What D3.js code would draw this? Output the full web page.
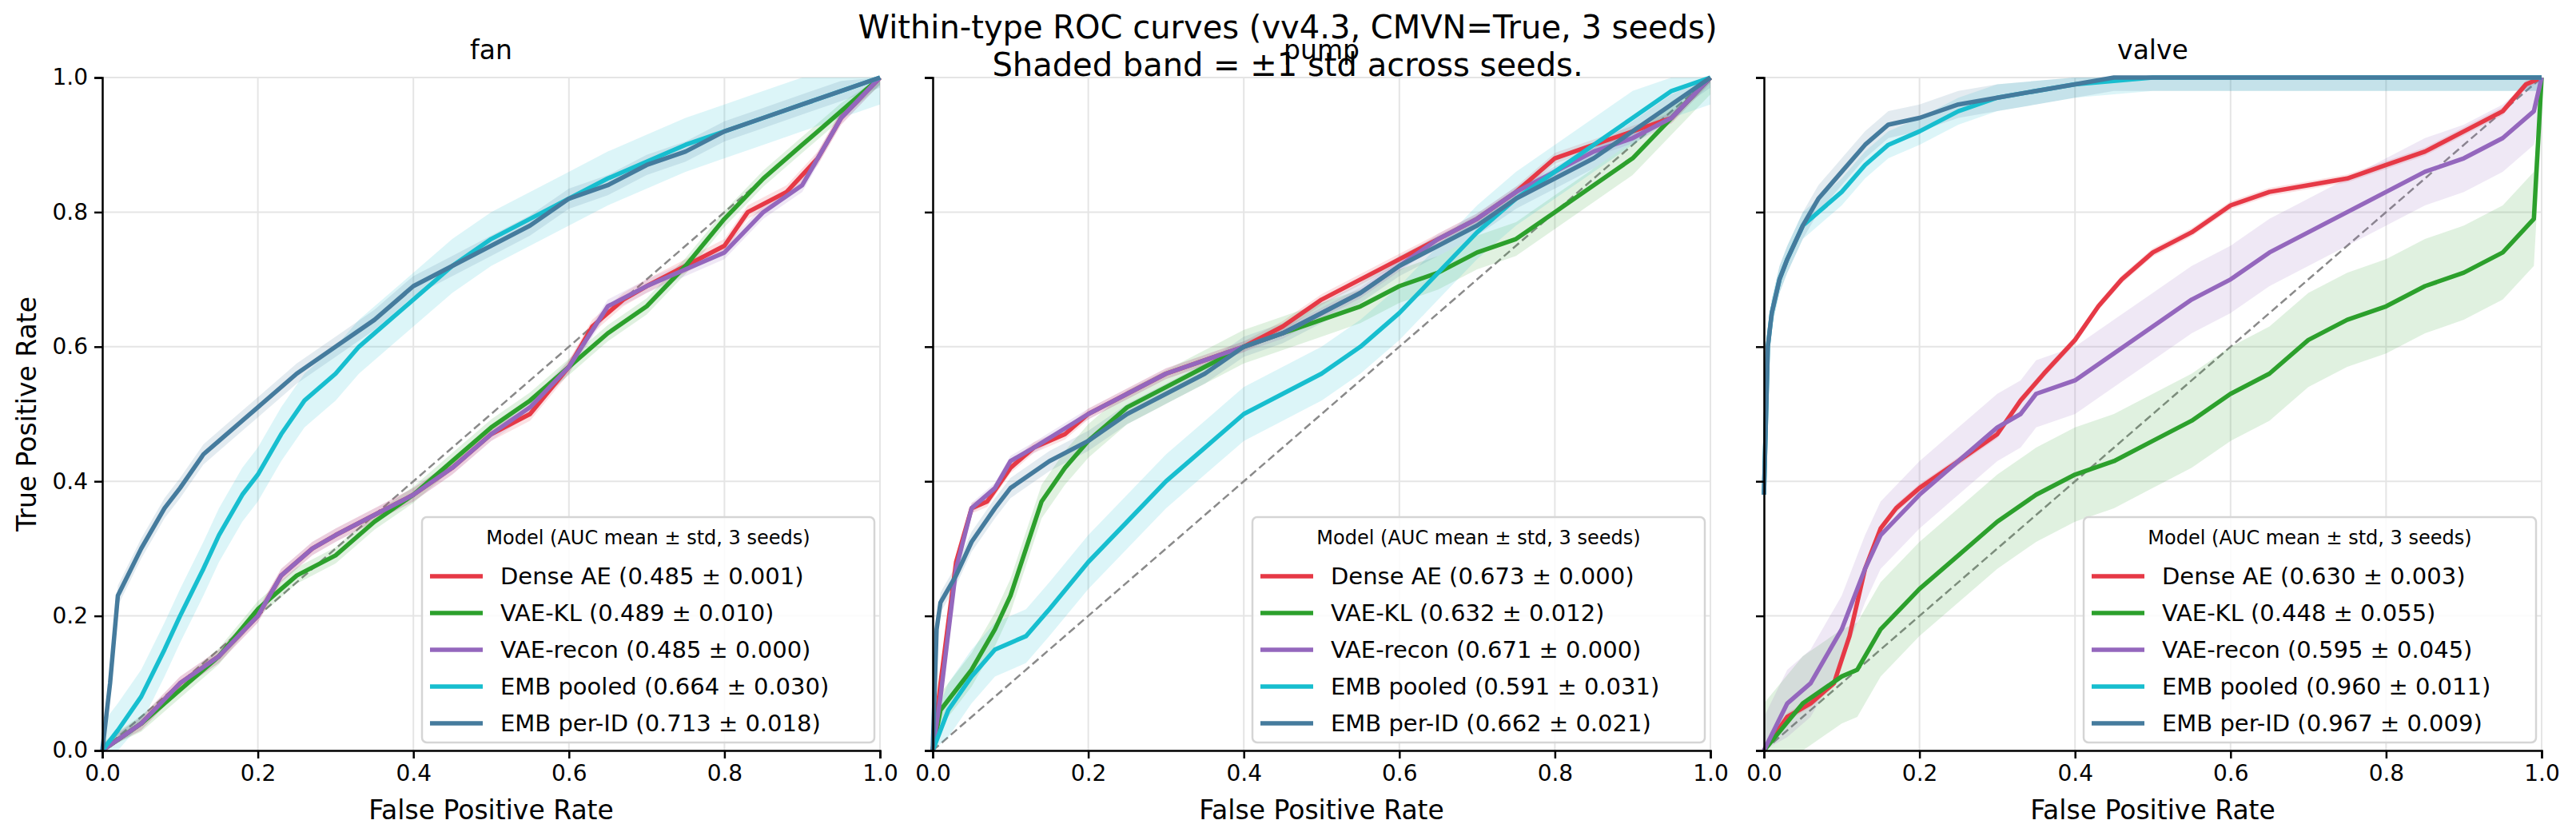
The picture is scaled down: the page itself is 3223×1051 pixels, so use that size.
<!DOCTYPE html>
<html><head><meta charset="utf-8">
<script src="https://cdn.jsdelivr.net/npm/d3@7"></script>
<style>body{margin:0;background:#fff}svg{font-family:"DejaVu Sans",sans-serif}</style>
</head><body><svg id="c" width="3223" height="1051"></svg>
<script>
const panels = ["fan", "pump", "valve"];
const models = ["Dense AE", "VAE-KL", "VAE-recon", "EMB pooled", "EMB per-ID"];
const colors = ["#e63946", "#2ca02c", "#9467bd", "#17becf", "#457b9d"];
const xTicks = [0, 0.2, 0.4, 0.6, 0.8, 1.0];
const yTicks = [0, 0.2, 0.4, 0.6, 0.8, 1.0];
const aucs = [
  ["0.485 ± 0.001", "0.489 ± 0.010", "0.485 ± 0.000", "0.664 ± 0.030", "0.713 ± 0.018"],
  ["0.673 ± 0.000", "0.632 ± 0.012", "0.671 ± 0.000", "0.591 ± 0.031", "0.662 ± 0.021"],
  ["0.630 ± 0.003", "0.448 ± 0.055", "0.595 ± 0.045", "0.960 ± 0.011", "0.967 ± 0.009"]
];
const bandStd = [
  [0.01, 0.012, 0.01, 0.04, 0.015],
  [0.008, 0.025, 0.008, 0.04, 0.015],
  [0.006, 0.07, 0.05, 0.02, 0.02]
];
const fanDense = [[0,0],[0.05,0.04],[0.1,0.1],[0.15,0.14],[0.2,0.2],[0.23,0.26],[0.27,0.3],[0.3,0.32],[0.35,0.35],[0.4,0.38],[0.45,0.42],[0.5,0.47],[0.55,0.5],[0.6,0.57],[0.63,0.63],[0.67,0.67],[0.7,0.69],[0.75,0.72],[0.8,0.75],[0.83,0.8],[0.88,0.83],[0.92,0.88],[0.95,0.94],[1,1]];
const fanKL = [[0,0],[0.05,0.04],[0.1,0.09],[0.15,0.14],[0.2,0.21],[0.25,0.26],[0.3,0.29],[0.35,0.34],[0.4,0.38],[0.45,0.43],[0.5,0.48],[0.55,0.52],[0.6,0.57],[0.65,0.62],[0.7,0.66],[0.75,0.72],[0.8,0.79],[0.85,0.85],[0.9,0.9],[0.95,0.95],[1,1]];
const fanRecon = [[0,0],[0.05,0.04],[0.1,0.1],[0.15,0.14],[0.2,0.2],[0.23,0.26],[0.27,0.3],[0.3,0.32],[0.35,0.35],[0.4,0.38],[0.45,0.42],[0.5,0.47],[0.55,0.51],[0.6,0.57],[0.65,0.66],[0.7,0.69],[0.8,0.74],[0.85,0.8],[0.9,0.84],[0.95,0.94],[1,1]];
const fanPooled = [[0,0],[0.02,0.03],[0.05,0.08],[0.08,0.15],[0.1,0.2],[0.13,0.27],[0.15,0.32],[0.18,0.38],[0.2,0.41],[0.23,0.47],[0.26,0.52],[0.3,0.56],[0.33,0.6],[0.37,0.64],[0.4,0.67],[0.45,0.72],[0.5,0.76],[0.55,0.79],[0.6,0.82],[0.65,0.85],[0.7,0.875],[0.75,0.9],[0.8,0.92],[0.85,0.94],[0.9,0.96],[0.95,0.98],[1,1]];
const fanPerID = [[0,0],[0.01,0.1],[0.02,0.23],[0.05,0.3],[0.08,0.36],[0.1,0.39],[0.13,0.44],[0.15,0.46],[0.18,0.49],[0.2,0.51],[0.25,0.56],[0.3,0.6],[0.35,0.64],[0.4,0.69],[0.45,0.72],[0.5,0.75],[0.55,0.78],[0.6,0.82],[0.65,0.84],[0.7,0.87],[0.75,0.89],[0.8,0.92],[0.85,0.94],[0.9,0.96],[0.95,0.98],[1,1]];
const pumpDense = [[0,0],[0.01,0.1],[0.03,0.28],[0.05,0.36],[0.07,0.37],[0.1,0.42],[0.13,0.45],[0.17,0.47],[0.2,0.5],[0.25,0.53],[0.3,0.56],[0.35,0.58],[0.4,0.6],[0.45,0.63],[0.5,0.67],[0.55,0.7],[0.6,0.73],[0.65,0.76],[0.7,0.79],[0.75,0.83],[0.8,0.88],[0.85,0.9],[0.9,0.92],[0.95,0.94],[1,1]];
const pumpKL = [[0,0],[0.01,0.06],[0.05,0.12],[0.08,0.18],[0.1,0.23],[0.12,0.3],[0.14,0.37],[0.17,0.42],[0.2,0.46],[0.25,0.51],[0.3,0.54],[0.35,0.57],[0.4,0.6],[0.45,0.62],[0.5,0.64],[0.55,0.66],[0.6,0.69],[0.65,0.71],[0.7,0.74],[0.75,0.76],[0.8,0.8],[0.85,0.84],[0.9,0.88],[0.95,0.94],[1,1]];
const pumpRecon = [[0,0],[0.01,0.08],[0.03,0.27],[0.05,0.36],[0.08,0.39],[0.1,0.43],[0.13,0.45],[0.2,0.5],[0.25,0.53],[0.3,0.56],[0.4,0.6],[0.45,0.62],[0.5,0.65],[0.55,0.68],[0.6,0.72],[0.65,0.76],[0.7,0.79],[0.75,0.83],[0.8,0.86],[0.85,0.89],[0.9,0.91],[0.95,0.94],[1,1]];
const pumpPooled = [[0,0],[0.02,0.06],[0.05,0.11],[0.08,0.15],[0.12,0.17],[0.15,0.21],[0.2,0.28],[0.25,0.34],[0.3,0.4],[0.35,0.45],[0.4,0.5],[0.45,0.53],[0.5,0.56],[0.55,0.6],[0.6,0.65],[0.65,0.71],[0.7,0.77],[0.75,0.82],[0.8,0.86],[0.85,0.9],[0.9,0.94],[0.95,0.98],[1,1]];
const pumpPerID = [[0,0],[0.005,0.18],[0.01,0.22],[0.03,0.26],[0.05,0.31],[0.08,0.36],[0.1,0.39],[0.15,0.43],[0.2,0.46],[0.25,0.5],[0.3,0.53],[0.35,0.56],[0.4,0.6],[0.45,0.62],[0.5,0.65],[0.55,0.68],[0.6,0.72],[0.65,0.75],[0.7,0.78],[0.75,0.82],[0.8,0.85],[0.85,0.88],[0.9,0.92],[0.95,0.96],[1,1]];
const valveDense = [[0,0],[0.03,0.05],[0.06,0.07],[0.09,0.1],[0.11,0.17],[0.13,0.27],[0.15,0.33],[0.17,0.36],[0.2,0.39],[0.25,0.43],[0.3,0.47],[0.33,0.52],[0.36,0.56],[0.4,0.61],[0.43,0.66],[0.46,0.7],[0.5,0.74],[0.55,0.77],[0.6,0.81],[0.65,0.83],[0.7,0.84],[0.75,0.85],[0.8,0.87],[0.85,0.89],[0.9,0.92],[0.95,0.95],[0.98,0.99],[1,1]];
const valveKL = [[0,0],[0.05,0.07],[0.1,0.11],[0.12,0.12],[0.15,0.18],[0.2,0.24],[0.25,0.29],[0.3,0.34],[0.35,0.38],[0.4,0.41],[0.45,0.43],[0.5,0.46],[0.55,0.49],[0.6,0.53],[0.65,0.56],[0.7,0.61],[0.75,0.64],[0.8,0.66],[0.85,0.69],[0.9,0.71],[0.95,0.74],[0.99,0.79],[1,1]];
const valveRecon = [[0,0],[0.03,0.07],[0.06,0.1],[0.08,0.14],[0.1,0.18],[0.13,0.27],[0.15,0.32],[0.2,0.38],[0.25,0.43],[0.3,0.48],[0.33,0.5],[0.35,0.53],[0.4,0.55],[0.45,0.59],[0.5,0.63],[0.55,0.67],[0.6,0.7],[0.65,0.74],[0.7,0.77],[0.75,0.8],[0.8,0.83],[0.85,0.86],[0.9,0.88],[0.95,0.91],[0.99,0.95],[1,1]];
const valvePooled = [[0,0.38],[0.005,0.6],[0.01,0.65],[0.02,0.7],[0.03,0.73],[0.05,0.78],[0.07,0.8],[0.1,0.83],[0.13,0.87],[0.16,0.9],[0.2,0.92],[0.25,0.95],[0.3,0.97],[0.4,0.99],[0.5,1],[1,1]];
const valvePerID = [[0,0.38],[0.005,0.6],[0.01,0.65],[0.02,0.7],[0.03,0.73],[0.05,0.78],[0.07,0.82],[0.1,0.86],[0.13,0.9],[0.16,0.93],[0.2,0.94],[0.25,0.96],[0.3,0.97],[0.4,0.99],[0.45,1],[1,1]];
const curves = [
  [fanDense, fanKL, fanRecon, fanPooled, fanPerID],
  [pumpDense, pumpKL, pumpRecon, pumpPooled, pumpPerID],
  [valveDense, valveKL, valveRecon, valvePooled, valvePerID]
];

const svg = d3.select("#c");
const lefts = [128, 1167, 2207], W = 973, topY = 97, bottomY = 939;
svg.append("text").attr("x", 1611).attr("y", 48).attr("text-anchor", "middle").attr("font-size", 40).text("Within-type ROC curves  (vv4.3, CMVN=True, 3 seeds)");
svg.append("text").attr("x", 1611).attr("y", 95).attr("text-anchor", "middle").attr("font-size", 40).text("Shaded band = ±1 std across seeds.");

panels.forEach((pname, p) => {
  const x = d3.scaleLinear().domain([0, 1]).range([lefts[p], lefts[p] + W]);
  const y = d3.scaleLinear().domain([0, 1]).range([bottomY, topY]);
  const g = svg.append("g");
  g.selectAll(".gx").data(xTicks).join("line").attr("x1", d => x(d)).attr("x2", d => x(d)).attr("y1", topY).attr("y2", bottomY).attr("stroke", "#e5e5e5").attr("stroke-width", 2);
  g.selectAll(".gy").data(yTicks).join("line").attr("y1", d => y(d)).attr("y2", d => y(d)).attr("x1", x(0)).attr("x2", x(1)).attr("stroke", "#e5e5e5").attr("stroke-width", 2);
  g.append("line").attr("x1", x(0)).attr("y1", y(0)).attr("x2", x(1)).attr("y2", y(1)).attr("stroke", "#8a8a8a").attr("stroke-width", 2.5).attr("stroke-dasharray", "10,5");
  const clip = "clip" + p;
  svg.append("clipPath").attr("id", clip).append("rect").attr("x", x(0)).attr("y", topY - 4).attr("width", W + 4).attr("height", bottomY - topY + 4);
  const area = d3.area().x(d => x(d[0]));
  curves[p].forEach((c, i) => {
    const s = bandStd[p][i];
    g.append("path").datum(c).attr("clip-path", `url(#${clip})`)
      .attr("d", area.y0(d => y(Math.max(0, d[1] - s))).y1(d => y(Math.min(1, d[1] + s))))
      .attr("fill", colors[i]).attr("opacity", 0.15);
  });
  const line = d3.line().x(d => x(d[0])).y(d => y(d[1]));
  curves[p].forEach((c, i) => {
    g.append("path").datum(c).attr("d", line).attr("fill", "none").attr("stroke", colors[i]).attr("stroke-width", 5.5).attr("stroke-linejoin", "round");
  });
  const xa = g.append("g").attr("transform", `translate(0,${bottomY})`).call(d3.axisBottom(x).tickValues(xTicks).tickFormat(d3.format(".1f")).tickSize(10).tickPadding(8));
  const ya = g.append("g").attr("transform", `translate(${lefts[p]},0)`).call(d3.axisLeft(y).tickValues(yTicks).tickFormat(p === 0 ? d3.format(".1f") : () => "").tickSize(10).tickPadding(8));
  [xa, ya].forEach(a => { a.selectAll("text").attr("font-size", 28).attr("fill", "#000").attr("font-family", "DejaVu Sans"); a.selectAll("line,path").attr("stroke", "#000").attr("stroke-width", 2.5); });
  g.append("text").attr("x", x(0.5)).attr("y", 1025).attr("text-anchor", "middle").attr("font-size", 33).text("False Positive Rate");
  if (p === 0) g.append("text").attr("transform", `translate(45,${(topY + bottomY) / 2}) rotate(-90)`).attr("text-anchor", "middle").attr("font-size", 33).text("True Positive Rate");
  g.append("text").attr("x", x(0.5)).attr("y", 74).attr("text-anchor", "middle").attr("font-size", 33).text(pname);
  const lx = x(1) - 573, ly = 647;
  const lg = g.append("g");
  lg.append("rect").attr("x", lx).attr("y", ly).attr("width", 566).attr("height", 282).attr("rx", 6).attr("fill", "#fff").attr("fill-opacity", 0.85).attr("stroke", "#d5d5d5").attr("stroke-width", 2.5);
  lg.append("text").attr("x", lx + 283).attr("y", ly + 34).attr("text-anchor", "middle").attr("font-size", 24).text("Model  (AUC mean ± std, 3 seeds)");
  models.forEach((m, i) => {
    const yy = ly + 74 + i * 46;
    lg.append("line").attr("x1", lx + 10).attr("x2", lx + 76).attr("y1", yy).attr("y2", yy).attr("stroke", colors[i]).attr("stroke-width", 5.5);
    lg.append("text").attr("x", lx + 98).attr("y", yy + 10).attr("font-size", 29).text(`${m}  (${aucs[p][i]})`);
  });
});
</script></body></html>
